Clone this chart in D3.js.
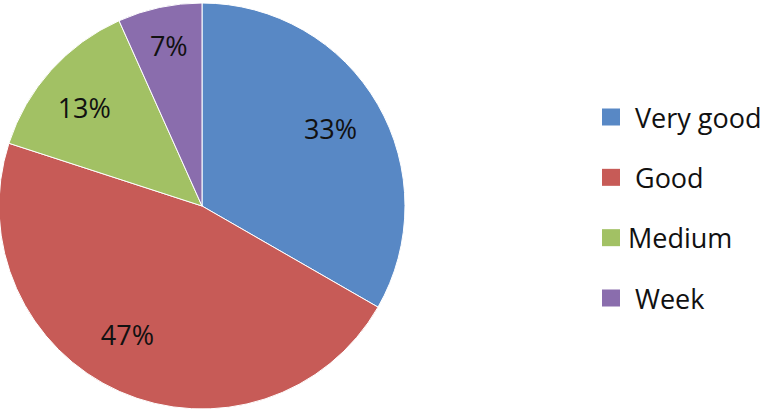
<!DOCTYPE html>
<html><head><meta charset="utf-8">
<script src="https://cdn.jsdelivr.net/npm/d3@7"></script>
<style>body{margin:0;background:#fff}svg{display:block}</style>
</head><body>
<svg id="c" width="767" height="411"></svg>
<script>
const categories = ["Very good", "Good", "Medium", "Week"];
const values = [33.3, 46.7, 13.3, 6.7];
const labels = ["33%", "47%", "13%", "7%"];
const colors = ["#5888C5", "#C75B57", "#A2C164", "#8A6DAD"];

const svg = d3.select("#c");
const cx = 202, cy = 206, r = 203;
const pie = d3.pie().sort(null).value(d => d)(values);
const arc = d3.arc().innerRadius(0).outerRadius(r);
const labelArc = d3.arc().innerRadius(r * 0.76).outerRadius(r * 0.76);
const g = svg.append("g").attr("transform", `translate(${cx},${cy})`);
g.selectAll("path").data(pie).join("path")
  .attr("d", arc).attr("fill", (d, i) => colors[i])
  .attr("stroke", "#fff").attr("stroke-width", 1);
const offs = [[-5, 0], [-12, -13], [-3, 5], [-1, -10]];
g.selectAll("text").data(pie).join("text")
  .attr("x", (d, i) => labelArc.centroid(d)[0] + offs[i][0])
  .attr("y", (d, i) => labelArc.centroid(d)[1] + offs[i][1])
  .attr("text-anchor", "middle").attr("dominant-baseline", "central")
  .attr("font-family", "'Open Sans', sans-serif").attr("font-size", 27)
  .attr("fill", "#111").text((d, i) => labels[i]);

const ly = d3.scalePoint().domain(categories).range([117, 298]);
const lg = svg.append("g");
lg.selectAll("rect").data(categories).join("rect")
  .attr("x", 602).attr("y", d => ly(d) - 8.5).attr("width", 18).attr("height", 17)
  .attr("fill", (d, i) => colors[i]);
lg.selectAll("text").data(categories).join("text")
  .attr("x", (d, i) => i === 2 ? 628 : 635).attr("y", d => ly(d))
  .attr("dominant-baseline", "central")
  .attr("font-family", "'Open Sans', sans-serif").attr("font-size", 27)
  .attr("fill", "#111").text(d => d);
</script>
</body></html>
